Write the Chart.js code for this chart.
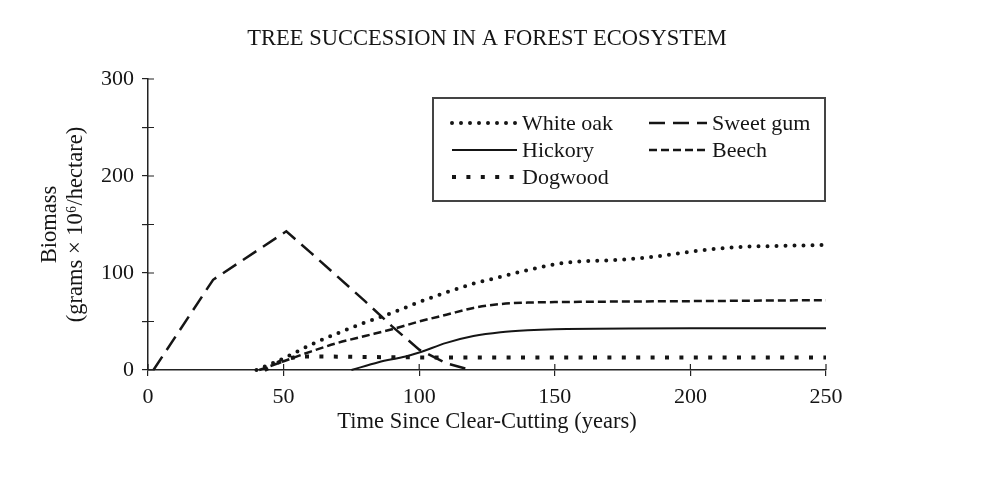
<!DOCTYPE html>
<html>
<head>
<meta charset="utf-8">
<script src="https://cdn.jsdelivr.net/npm/chart.js@4.4.0/dist/chart.umd.min.js"></script>
<style>
  html, body { margin: 0; padding: 0; background: #fff; }
  #wrap { width: 991px; height: 478px; }
</style>
</head>
<body>
<div id="wrap"><canvas id="chart"></canvas></div>
<script>
// values (years since clear-cutting -> biomass)
const speciesNames = ['White oak', 'Sweet gum', 'Hickory', 'Beech', 'Dogwood'];

const whiteOakYears = [40, 50, 60, 70, 80, 90, 100, 110, 120, 130, 140, 150, 160, 170, 180, 190, 200, 210, 220, 235, 250];
const whiteOakMass  = [0, 12, 26, 38, 49, 59, 70, 80, 89, 96, 103, 109, 112, 113, 115, 118, 122, 125, 127, 128, 129];

const sweetGumYears = [2, 24, 51, 60, 70, 80, 90, 100, 110, 119];
const sweetGumMass  = [0, 93, 143, 121, 96, 71, 45, 21, 7, 0];

const hickoryYears = [75, 85, 95, 100, 110, 120, 130, 140, 150, 200, 250];
const hickoryMass  = [0, 8, 14, 18, 28, 35, 39, 41, 42, 43, 43];

const beechYears = [41, 50, 60, 70, 80, 90, 100, 110, 120, 130, 140, 150, 200, 250];
const beechMass  = [0, 9, 19, 28, 35, 42, 50, 57, 64, 68, 69.5, 70, 71, 72];

const dogwoodYears = [43, 50, 57, 100, 150, 200, 250];
const dogwoodMass  = [0, 10, 14, 13, 13, 13, 13];

const xTicks = [0, 50, 100, 150, 200, 250];
const yLabelled = [0, 100, 200, 300];
const chartTitle = 'TREE SUCCESSION IN A FOREST ECOSYSTEM';

const toPoints = (xs, ys) => xs.map((v, i) => ({ x: v, y: ys[i] }));
const ink = '#151515';
const serif = '"Liberation Serif", "DejaVu Serif", serif';

// title centred over the plot area rather than the canvas
const plotTitle = {
  id: 'plotTitle',
  afterDraw(chart) {
    const ctx = chart.ctx, a = chart.chartArea;
    ctx.save();
    ctx.fillStyle = ink;
    ctx.font = '22.5px ' + serif;
    ctx.textAlign = 'center';
    ctx.textBaseline = 'middle';
    ctx.fillText(chartTitle, (a.left + a.right) / 2, 39);
    ctx.restore();
  }
};

// the boxed two-column legend
const boxLegend = {
  id: 'boxLegend',
  afterDraw(chart) {
    const ctx = chart.ctx;
    ctx.save();
    ctx.fillStyle = '#fff';
    ctx.fillRect(433, 98, 392, 103);
    ctx.strokeStyle = '#444';
    ctx.lineWidth = 2;
    ctx.strokeRect(433, 98, 392, 103);

    const slots = [[450, 123, 67], [647, 123, 60], [450, 150, 67], [647, 150, 60], [450, 177, 67]];
    chart.data.datasets.forEach((ds, i) => {
      const [sx, sy, len] = slots[i];
      ctx.beginPath();
      ctx.strokeStyle = ds.borderColor;
      ctx.lineWidth = ds.borderWidth;
      ctx.lineCap = ds.borderCapStyle || 'butt';
      ctx.setLineDash(ds.borderDash || []);
      ctx.moveTo(sx + 2, sy);
      ctx.lineTo(sx + len, sy);
      ctx.stroke();
      ctx.setLineDash([]);
      ctx.fillStyle = ink;
      ctx.font = '22px ' + serif;
      ctx.textBaseline = 'middle';
      ctx.textAlign = 'left';
      ctx.fillText(ds.label, sx + len + 5, sy + 1);
    });
    ctx.restore();
  }
};

// tick marks that also poke into the plot area
const innerTicks = {
  id: 'innerTicks',
  afterDatasetsDraw(chart) {
    const { ctx, scales: { x, y } } = chart;
    ctx.save();
    ctx.strokeStyle = '#222';
    ctx.lineWidth = 1.2;
    ctx.beginPath();
    x.ticks.forEach(t => {
      const px = x.getPixelForValue(t.value);
      ctx.moveTo(px, y.bottom);
      ctx.lineTo(px, y.bottom - 6);
    });
    y.ticks.forEach(t => {
      const py = y.getPixelForValue(t.value);
      ctx.moveTo(x.left, py);
      ctx.lineTo(x.left + 6, py);
    });
    ctx.stroke();
    ctx.restore();
  }
};

new Chart(document.getElementById('chart'), {
  type: 'line',
  data: {
    datasets: [
      {
        label: speciesNames[0],
        data: toPoints(whiteOakYears, whiteOakMass),
        borderColor: ink,
        borderWidth: 4,
        borderDash: [0, 9],
        borderCapStyle: 'round',
        cubicInterpolationMode: 'monotone'
      },
      {
        label: speciesNames[1],
        data: toPoints(sweetGumYears, sweetGumMass),
        borderColor: ink,
        borderWidth: 2.5,
        borderDash: [16, 8],
        tension: 0
      },
      {
        label: speciesNames[2],
        data: toPoints(hickoryYears, hickoryMass),
        borderColor: ink,
        borderWidth: 2,
        cubicInterpolationMode: 'monotone'
      },
      {
        label: speciesNames[3],
        data: toPoints(beechYears, beechMass),
        borderColor: ink,
        borderWidth: 2.5,
        borderDash: [8, 4],
        cubicInterpolationMode: 'monotone'
      },
      {
        label: speciesNames[4],
        data: toPoints(dogwoodYears, dogwoodMass),
        borderColor: ink,
        borderWidth: 4,
        borderDash: [4, 10.4],
        cubicInterpolationMode: 'monotone'
      }
    ]
  },
  options: {
    responsive: true,
    maintainAspectRatio: false,
    animation: false,
    clip: false,
    elements: { point: { radius: 0 } },
    layout: { padding: { left: 0, right: 165, top: 79, bottom: 0 } },
    plugins: {
      legend: { display: false },
      tooltip: { enabled: false },
      title: { display: false }
    },
    scales: {
      x: {
        type: 'linear',
        min: 0,
        max: 250,
        afterBuildTicks: s => { s.ticks = xTicks.map(v => ({ value: v })); },
        afterFit: s => { s.height = 108; },
        grid: { drawOnChartArea: false, tickLength: 6, color: '#222', lineWidth: 1.2 },
        border: { color: '#222', width: 1.5 },
        ticks: { color: ink, padding: 8, font: { family: serif, size: 22 }, maxRotation: 0 },
        title: {
          display: true,
          text: 'Time Since Clear-Cutting (years)',
          color: ink,
          font: { family: serif, size: 22.5, lineHeight: 1.2 },
          padding: { top: 0, bottom: 42 }
        }
      },
      y: {
        min: 0,
        max: 300,
        ticks: {
          stepSize: 50,
          color: ink,
          padding: 8,
          font: { family: serif, size: 22 },
          callback: v => yLabelled.includes(v) ? v : ''
        },
        afterFit: s => { s.width = 148; },
        grid: { drawOnChartArea: false, tickLength: 6, color: '#222', lineWidth: 1.2 },
        border: { color: '#222', width: 1.5 },
        title: {
          display: true,
          text: ['Biomass', '(grams \u00d7 10\u2076/hectare)'],
          color: ink,
          font: { family: serif, size: 22.5, lineHeight: 1.15 },
          padding: { top: 37, bottom: 0 }
        }
      }
    }
  },
  plugins: [innerTicks, boxLegend, plotTitle]
});
</script>
</body>
</html>
